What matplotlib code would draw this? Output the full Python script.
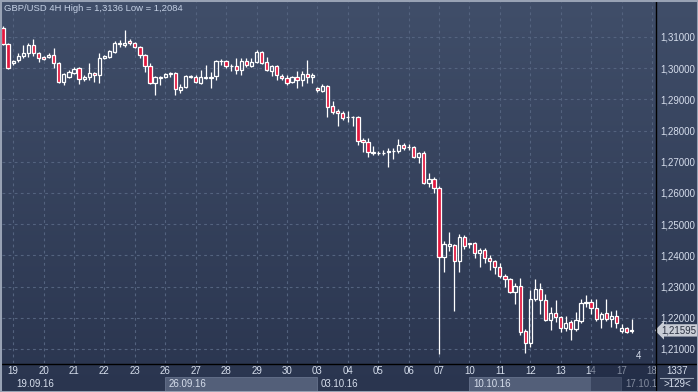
import numpy as np
import matplotlib.pyplot as plt
from matplotlib.patches import Rectangle
from matplotlib.lines import Line2D
import matplotlib.transforms as mtransforms

# GBP/USD 4H candles, 16.09.16 (last two bars) to 17.10.16
opens = [1.3129, 1.3078, 1.3017, 1.3026, 1.3039, 1.3049, 1.3074, 1.3049, 1.3036, 1.3036,
         1.3042, 1.3017, 1.2956, 1.2972, 1.2985, 1.3001, 1.2965, 1.2972, 1.2985, 1.2978,
         1.3033, 1.3036, 1.3052, 1.3078, 1.3074, 1.3087, 1.3081, 1.3068, 1.3042, 1.3007,
         1.2953, 1.2969, 1.2972, 1.2981, 1.2985, 1.2930, 1.2940, 1.2972, 1.2972, 1.2953,
         1.2969, 1.2969, 1.2975, 1.3022, 1.3023, 1.3006, 1.3007, 1.2994, 1.3023, 1.3007,
         1.3020, 1.3052, 1.3020, 1.2991, 1.3007, 1.2975, 1.2969, 1.2956, 1.2972, 1.2962,
         1.2981, 1.2972, 1.2937, 1.2927, 1.2943, 1.2879, 1.2863, 1.2856, 1.2843, 1.2843,
         1.2844, 1.2769, 1.2763, 1.2728, 1.2727, 1.2727, 1.2731, 1.2734, 1.2735, 1.2754,
         1.2746, 1.2747, 1.2715, 1.2728, 1.2632, 1.2645, 1.2616, 1.2395, 1.2430, 1.2433,
         1.2382, 1.2459, 1.2436, 1.2440, 1.2408, 1.2417, 1.2392, 1.2382, 1.2363, 1.2334,
         1.2324, 1.2283, 1.2302, 1.2158, 1.2119, 1.2260, 1.2292, 1.2257, 1.2193, 1.2215,
         1.2203, 1.2167, 1.2187, 1.2164, 1.2190, 1.2247, 1.2251, 1.2231, 1.2196, 1.2215,
         1.2196, 1.2206, 1.2158, 1.2167, 1.2159]
highs = [1.3136, 1.3080, 1.3026, 1.3049, 1.3074, 1.3081, 1.3094, 1.3052, 1.3039, 1.3049,
         1.3065, 1.3020, 1.2985, 1.2994, 1.3004, 1.3004, 1.2978, 1.3017, 1.2988, 1.3049,
         1.3042, 1.3058, 1.3087, 1.3090, 1.3122, 1.3094, 1.3084, 1.3071, 1.3046, 1.3017,
         1.2975, 1.2975, 1.2985, 1.2988, 1.2988, 1.2949, 1.2978, 1.2978, 1.2978, 1.2994,
         1.3010, 1.2988, 1.3026, 1.3030, 1.3025, 1.3014, 1.3033, 1.3033, 1.3033, 1.3033,
         1.3058, 1.3055, 1.3036, 1.3010, 1.3010, 1.2981, 1.2978, 1.2975, 1.2991, 1.2991,
         1.3026, 1.2985, 1.2940, 1.2949, 1.2946, 1.2895, 1.2869, 1.2863, 1.2863, 1.2847,
         1.2847, 1.2776, 1.2776, 1.2751, 1.2735, 1.2738, 1.2744, 1.2744, 1.2773, 1.2760,
         1.2757, 1.2751, 1.2731, 1.2735, 1.2664, 1.2651, 1.2622, 1.2446, 1.2475, 1.2436,
         1.2469, 1.2465, 1.2440, 1.2443, 1.2424, 1.2424, 1.2401, 1.2385, 1.2376, 1.2340,
         1.2328, 1.2311, 1.2328, 1.2164, 1.2289, 1.2324, 1.2311, 1.2276, 1.2235, 1.2257,
         1.2206, 1.2206, 1.2193, 1.2219, 1.2260, 1.2273, 1.2260, 1.2260, 1.2219, 1.2260,
         1.2222, 1.2225, 1.2180, 1.2171, 1.2196]
lows = [1.3074, 1.2997, 1.3010, 1.3020, 1.3033, 1.3036, 1.3039, 1.3020, 1.3026, 1.3033,
        1.3001, 1.2953, 1.2946, 1.2969, 1.2981, 1.2949, 1.2959, 1.2962, 1.2956, 1.2953,
        1.3030, 1.3033, 1.3049, 1.3068, 1.3068, 1.3074, 1.3065, 1.3033, 1.2988, 1.2949,
        1.2914, 1.2946, 1.2969, 1.2972, 1.2914, 1.2921, 1.2937, 1.2970, 1.2953, 1.2950,
        1.2965, 1.2937, 1.2962, 1.3010, 1.3001, 1.2991, 1.2981, 1.2978, 1.3004, 1.3004,
        1.3017, 1.3014, 1.2991, 1.2975, 1.2962, 1.2962, 1.2946, 1.2953, 1.2937, 1.2943,
        1.2953, 1.2953, 1.2924, 1.2924, 1.2844, 1.2853, 1.2815, 1.2834, 1.2828, 1.2815,
        1.2754, 1.2731, 1.2715, 1.2722, 1.2722, 1.2722, 1.2683, 1.2709, 1.2728, 1.2738,
        1.2738, 1.2712, 1.2696, 1.2630, 1.2619, 1.2600, 1.2084, 1.2347, 1.2414, 1.2222,
        1.2347, 1.2420, 1.2424, 1.2392, 1.2363, 1.2376, 1.2353, 1.2340, 1.2328, 1.2299,
        1.2280, 1.2244, 1.2145, 1.2087, 1.2107, 1.2254, 1.2212, 1.2190, 1.2161, 1.2187,
        1.2155, 1.2158, 1.2129, 1.2158, 1.2183, 1.2235, 1.2212, 1.2190, 1.2167, 1.2190,
        1.2171, 1.2167, 1.2151, 1.2151, 1.2151]
closes = [1.3078, 1.3001, 1.3023, 1.3039, 1.3049, 1.3074, 1.3049, 1.3033, 1.3030, 1.3042,
          1.3017, 1.2956, 1.2981, 1.2988, 1.2997, 1.2965, 1.2972, 1.2985, 1.2978, 1.3033,
          1.3039, 1.3055, 1.3081, 1.3081, 1.3081, 1.3081, 1.3068, 1.3042, 1.3007, 1.2953,
          1.2972, 1.2972, 1.2981, 1.2985, 1.2933, 1.2940, 1.2975, 1.2975, 1.2956, 1.2972,
          1.2972, 1.2972, 1.3023, 1.3023, 1.3007, 1.3007, 1.2994, 1.3023, 1.3010, 1.3020,
          1.3052, 1.3017, 1.2994, 1.3007, 1.2978, 1.2969, 1.2953, 1.2972, 1.2962, 1.2981,
          1.2972, 1.2978, 1.2930, 1.2943, 1.2876, 1.2860, 1.2856, 1.2840, 1.2844, 1.2844,
          1.2767, 1.2763, 1.2731, 1.2731, 1.2728, 1.2728, 1.2735, 1.2735, 1.2754, 1.2744,
          1.2747, 1.2715, 1.2728, 1.2632, 1.2645, 1.2616, 1.2395, 1.2436, 1.2436, 1.2382,
          1.2459, 1.2430, 1.2440, 1.2408, 1.2417, 1.2392, 1.2382, 1.2363, 1.2334, 1.2324,
          1.2283, 1.2302, 1.2155, 1.2119, 1.2260, 1.2292, 1.2257, 1.2193, 1.2215, 1.2203,
          1.2167, 1.2183, 1.2164, 1.2193, 1.2247, 1.2251, 1.2231, 1.2196, 1.2212, 1.2196,
          1.2206, 1.2183, 1.2167, 1.2155, 1.21595]

day_labels = ['19', '20', '21', '22', '23', '26', '27', '28', '29', '30', '03',
              '04', '05', '06', '07', '10', '11', '12', '13', '14', '17', '18']
week_labels = ['19.09.16', '26.09.16', '03.10.16', '10.10.16', '17.10.1']
price_ticks = [1.21, 1.22, 1.23, 1.24, 1.25, 1.26, 1.27, 1.28, 1.29, 1.30, 1.31]
first_day_bar = 2   # '19' starts after two bars of 16.09
bars_per_day = 6
last_price = 1.21595

W, H = 698, 392
fig = plt.figure(figsize=(W / 100, H / 100), dpi=100)


def fx(px):
    return px / W


def fy(py):
    return 1 - py / H


# background gradient for the whole terminal window
bg = fig.add_axes([0, 0, 1, 1], zorder=-5)
grad = np.linspace(0, 1, 256).reshape(-1, 1)
top_c = np.array([64, 78, 105]) / 255
bot_c = np.array([42, 53, 79]) / 255
img = top_c[None, None, :] * (1 - grad[:, :, None]) + bot_c[None, None, :] * grad[:, :, None]
bg.imshow(img, aspect='auto', extent=[0, 1, 0, 1])
bg.set_xlim(0, 1)
bg.set_ylim(0, 1)
bg.axis('off')

ax = fig.add_axes([fx(2), fy(363), fx(655) - fx(2), fy(2) - fy(363)])
ax.set_facecolor('none')
for s in ax.spines.values():
    s.set_visible(False)

n = len(opens)
x = np.arange(n)
o = np.array(opens)
hgh = np.array(highs)
low = np.array(lows)
c = np.array(closes)

ax.set_xlim(-0.2, 128.6)
ax.set_ylim(1.2055, 1.3212)

day_pos = [first_day_bar + bars_per_day * k for k in range(len(day_labels))]
grid_c = '#54637f'
for d in day_pos:
    ax.axvline(d, color=grid_c, lw=0.8, ls=(0, (2.5, 3)), zorder=1)
for p in price_ticks:
    ax.axhline(p, color=grid_c, lw=0.8, ls=(0, (2.5, 3)), zorder=1)

# candles
body_top = np.maximum(o, c)
body_bot = np.minimum(o, c)
up = c >= o
ax.vlines(x, body_top, hgh, color='white', lw=0.9, zorder=3)
ax.vlines(x, low, body_bot, color='white', lw=0.9, zorder=3)
heights = np.maximum(body_top - body_bot, 0.00005)
ax.bar(x[up], heights[up], bottom=body_bot[up], width=0.64, facecolor='none',
       edgecolor='white', linewidth=0.9, zorder=4)
ax.bar(x[~up], heights[~up], bottom=body_bot[~up], width=0.64, facecolor='#e3173e',
       edgecolor='white', linewidth=0.9, zorder=4)

label_c = '#d6deec'
ax.set_xticks(day_pos, day_labels)
ax.yaxis.tick_right()
ax.set_yticks(price_ticks, [f'{p:.5f}'.replace('.', ',') for p in price_ticks])
ax.tick_params(axis='x', length=0, pad=2.5, labelsize=7, labelcolor=label_c)
ax.tick_params(axis='y', length=0, pad=4, labelsize=7, labelcolor=label_c)
for t in ax.get_xticklabels() + ax.get_yticklabels():
    t.set_fontfamily('Liberation Sans')

# week row under the day numbers
trans = mtransforms.blended_transform_factory(ax.transData, fig.transFigure)
week_starts = [day_pos[0], day_pos[5], day_pos[10], day_pos[15], day_pos[20]]
for k, (ws, wl) in enumerate(zip(week_starts, week_labels)):
    if k % 2 == 1:
        ax.add_patch(Rectangle((ws - 0.1, fy(391)), 30, fy(377) - fy(391), transform=trans,
                               facecolor='#535f79', edgecolor='#66728c', lw=0.6,
                               clip_on=False, zorder=2))
    ax.text(ws + 0.7, fy(384), wl, transform=trans, color=label_c, fontsize=7,
            family='Liberation Sans', va='center', ha='left', clip_on=False, zorder=3)

# darker scrolled-off region at the right of the time axis
fig.patches.append(Rectangle((fx(591), fy(391)), fx(655) - fx(591), fy(363) - fy(391),
                             transform=fig.transFigure, facecolor='#1c2640', alpha=0.45,
                             edgecolor='none', zorder=10))

# separators
fig.add_artist(Line2D([0, 1], [fy(363.5), fy(363.5)], color='black', lw=1.0))
fig.add_artist(Line2D([fx(655.5), fx(655.5)], [0, fy(2)], color='black', lw=1.0))
fig.add_artist(Line2D([fx(660), fx(693)], [fy(377.5), fy(377.5)], color='#9aa4b6', lw=0.8))

fig.text(fx(677), fy(371), '1337', color=label_c, fontsize=7, family='Liberation Sans',
         ha='center', va='center')
fig.text(fx(677), fy(384), '>129<', color=label_c, fontsize=7, family='Liberation Sans',
         ha='center', va='center')

# title
fig.text(fx(4), fy(8.5), 'GBP/USD 4H High = 1,3136 Low = 1,2084', color='#c4d0e4',
         fontsize=6.8, family='Liberation Sans', ha='left', va='center')

# last price tag
ax.annotate(f'{last_price:.5f}'.replace('.', ','), xy=(1.0, last_price),
            xycoords=('axes fraction', 'data'), xytext=(4.5, 0), textcoords='offset points',
            ha='left', va='center', fontsize=7, family='Liberation Sans', color='#2a3040',
            bbox=dict(boxstyle='larrow,pad=0.12', fc='#c9cdd6', ec='none'),
            annotation_clip=False, zorder=12)

fig.text(fx(639), fy(356), '4', color=label_c, fontsize=7, family='Liberation Sans',
         ha='center', va='center')

# window frame
fig.patches.append(Rectangle((0, 0), 1, 1, transform=fig.transFigure, fill=False,
                             edgecolor='#98a2b4', lw=2.2, zorder=20))

plt.savefig('out.png', dpi=100)
